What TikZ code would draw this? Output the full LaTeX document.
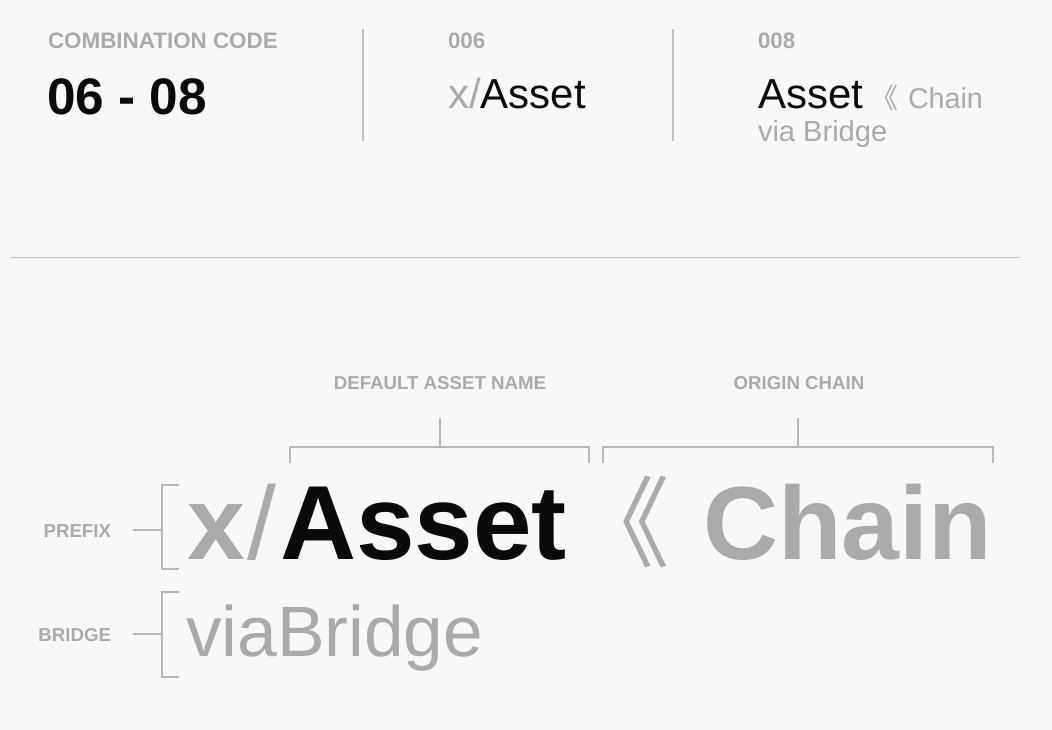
\documentclass[tikz,border=0pt]{standalone}
\usepackage{fontspec}
\setmainfont{Liberation Sans}
\newfontfamily\cjk{Noto Sans CJK SC}
\definecolor{bg}{HTML}{F8F8F8}
\definecolor{txtgray}{HTML}{AAAAAA}
\definecolor{linegray}{HTML}{C2C2C2}
\definecolor{ink}{HTML}{0A0A0A}
\begin{document}
\begin{tikzpicture}[x=0.75pt,y=-0.75pt,
  txt/.style={inner sep=0pt,outer sep=0pt,anchor=base west},
  captxt/.style={txt,text=txtgray,font=\fontsize{16.8}{17}\selectfont\bfseries},
  lbl/.style={inner sep=0pt,outer sep=0pt,anchor=base,text=txtgray,font=\fontsize{14}{14}\selectfont\bfseries},
  sidelbl/.style={inner sep=0pt,outer sep=0pt,anchor=base east,text=txtgray,font=\fontsize{14}{14}\selectfont\bfseries},
  rule/.style={draw=linegray,line width=0.9pt},
  brk/.style={draw=txtgray!85,line width=0.9pt}]
\fill[bg] (0,0) rectangle (1052,730);
\useasboundingbox (0,0) rectangle (1052,730);
% top row
\node[captxt] (cc) at (48,49) {COMBINATION CODE};
\node[txt,text=ink,font=\fontsize{38.5}{39}\selectfont\bfseries] (code) at (47,115) {06 - 08};
\node[captxt] (n006) at (448,49) {006};
\node[captxt] (n008) at (758,49) {008};
\node[txt,text=txtgray,font=\fontsize{31.5}{32}\selectfont] (tx) at (448,109) {x/};
\node[txt,text=ink,font=\fontsize{31.5}{32}\selectfont] (tasset) at (tx.base east) {Asset};
\node[txt,text=ink,font=\fontsize{31.5}{32}\selectfont] (tasset2) at (758,109) {Asset};
\node[inner sep=0pt,anchor=base east,text=txtgray,font=\cjk\fontsize{21}{22}\selectfont] (tbr) at (899,109) {《};
\node[txt,text=txtgray,font=\fontsize{21.5}{22}\selectfont] (tchain) at (908,109) {Chain};
\node[txt,text=txtgray,font=\fontsize{21.8}{22}\selectfont] (tvia) at (758,142) {via Bridge};
\coordinate (d1t) at (363,29); \coordinate (d1b) at (363,141);
\coordinate (d2t) at (673,29); \coordinate (d2b) at (673,141);
\draw[rule] (d1t) -- (d1b);
\draw[rule] (d2t) -- (d2b);
\coordinate (hl) at (10,258); \coordinate (hr) at (1020,258);
\draw[rule,line width=0.75pt] (hl) -- (hr);
% bottom labels
\node[lbl] (dan) at (440,390) {DEFAULT ASSET NAME};
\node[lbl] (oc) at (799,390) {ORIGIN CHAIN};
\node[sidelbl] (pre) at (111,537) {PREFIX};
\node[sidelbl] (bri) at (111,641) {BRIDGE};
% brackets
\draw[brk] (290,463) -- (290,447) -- (589,447) -- (589,463);
\draw[brk] (440,447) -- (440,418);
\draw[brk] (603,463) -- (603,447) -- (993,447) -- (993,463);
\draw[brk] (798,447) -- (798,418);
\draw[brk] (179,485) -- (162,485) -- (162,569) -- (179,569);
\draw[brk] (133,530) -- (162,530);
\draw[brk] (179,592) -- (162,592) -- (162,677) -- (179,677);
\draw[brk] (133,634) -- (162,634);
% big text
\node[txt,text=txtgray,font=\fontsize{78}{80}\selectfont\bfseries] (bx) at (187,559) {x};
\node[txt,text=txtgray,font=\fontsize{78}{80}\selectfont] (bsl) at (247,559) {/};
\node[txt,text=ink,font=\fontsize{79}{80}\selectfont\bfseries] (basset) at (280,559) {Asset};
\node[inner sep=0pt,anchor=base east,text=txtgray,font=\cjk\fontsize{74}{76}\selectfont] (bbr) at (670,559) {《};
\node[txt,text=txtgray,font=\fontsize{78}{80}\selectfont\bfseries] (bchain) at (703,559) {Chain};
\node[txt,text=txtgray,font=\fontsize{53.5}{54}\selectfont] (bvia) at (186,656) {viaBridge};
\end{tikzpicture}
\end{document}
